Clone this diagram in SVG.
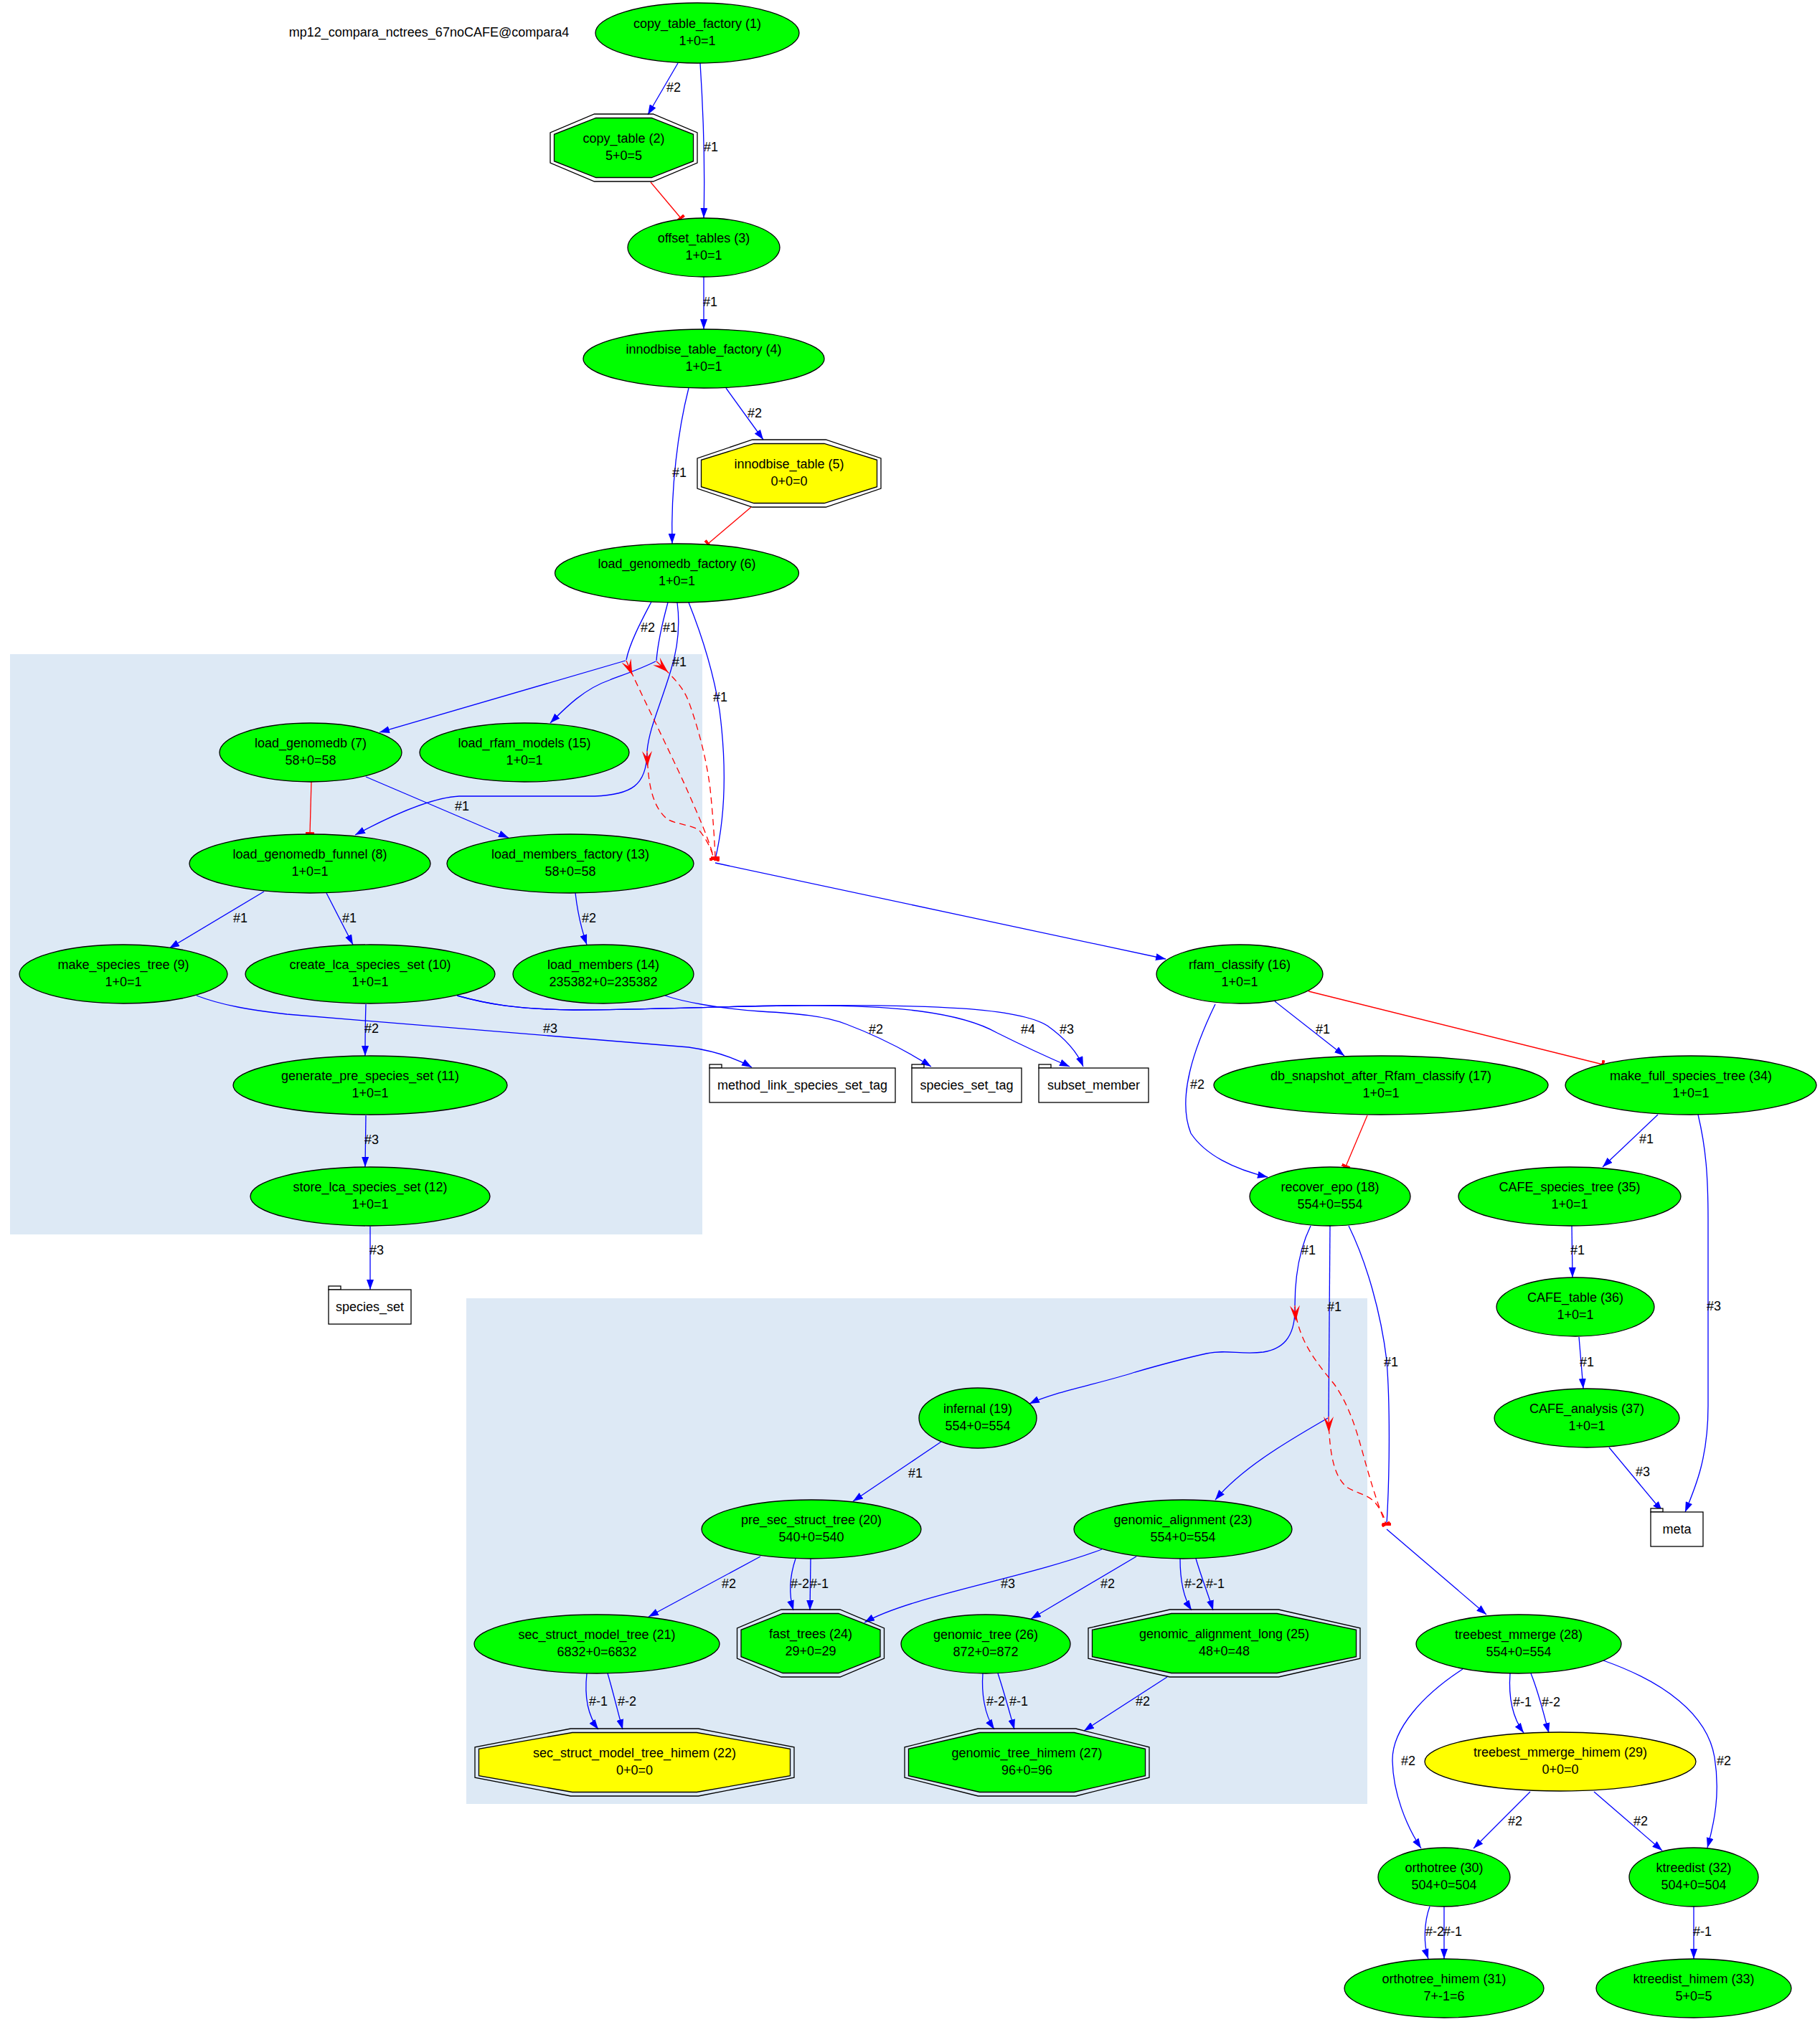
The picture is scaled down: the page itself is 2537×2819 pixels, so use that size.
<svg xmlns="http://www.w3.org/2000/svg" width="2537" height="2819" viewBox="0 0 2537 2819">
<style>
  text { font-family: "Liberation Sans", Arial, Helvetica, sans-serif; font-size: 18px; fill: #000; }
  .c { text-anchor: middle; }
  .nd ellipse, .nd polygon, .nd rect { stroke: #000; stroke-width: 1.3; }
  .g { fill: #00ff00; }
  .y { fill: #ffff00; }
  .per { fill: none; }
  .tbl rect { fill: #fff; }
  .cl { fill: #dde9f5; stroke: none; }
  .e { fill: none; stroke: #0000ff; stroke-width: 1.3; }
  .ea { marker-end: url(#arr); }
  .r { fill: none; stroke: #ff0000; stroke-width: 1.3; marker-end: url(#tee); }
  .d { fill: none; stroke: #ff0000; stroke-width: 1.3; stroke-dasharray: 9,6; marker-start: url(#vee); marker-end: url(#tee); }
</style>
<defs>
  <marker id="arr" markerUnits="userSpaceOnUse" viewBox="0 0 14 10" refX="14" refY="5" markerWidth="14" markerHeight="10" orient="auto">
    <path d="M0,0 L14,5 L0,10 Z" fill="#0000ff"/>
  </marker>
  <marker id="tee" markerUnits="userSpaceOnUse" viewBox="0 0 4 12" refX="2" refY="6" markerWidth="4" markerHeight="12" orient="auto">
    <rect x="0" y="0" width="4" height="12" fill="#ff0000"/>
  </marker>
  <marker id="vee" markerUnits="userSpaceOnUse" viewBox="0 0 22 16" refX="0" refY="8" markerWidth="22" markerHeight="16" orient="auto">
    <path d="M0,1 L22,8 L0,15 L9,8 Z" fill="#ff0000"/>
  </marker>
</defs>

<rect width="2537" height="2819" fill="#fff"/>

<!-- clusters -->
<g id="clusters">
  <rect class="cl" x="14" y="912" width="965" height="809"/>
  <rect class="cl" x="650" y="1810" width="1256" height="705"/>
</g>

<text x="598" y="51" class="c">mp12_compara_nctrees_67noCAFE@compara4</text>

<!-- connectors -->
<g id="connectors">
  <!-- top chain -->
  <path class="e ea" d="M945,88 L903,160"/>
  <text x="939" y="128" class="c">#2</text>
  <path class="e ea" d="M976,88 C980,150 983,230 981,304"/>
  <text x="991" y="211" class="c">#1</text>
  <path class="r" d="M907,254 L949,304"/>
  <path class="e ea" d="M981,386 L981,459"/>
  <text x="990" y="427" class="c">#1</text>
  <path class="e ea" d="M960,541 C945,600 935,680 937,758"/>
  <text x="947" y="665" class="c">#1</text>
  <path class="e ea" d="M1012,541 L1064,613"/>
  <text x="1052" y="582" class="c">#2</text>
  <path class="r" d="M1047,707 L987,758"/>

  <!-- load_genomedb_factory fan-out and semaphore -->
  <path class="e" d="M908,839 C896,862 878,895 873,920"/>
  <text x="903" y="881" class="c">#2</text>
  <path class="e" d="M931,840 C925,862 917,895 915,921"/>
  <text x="934" y="881" class="c">#1</text>
  <path class="e" d="M944,840 C948,870 946,900 935,935 C920,985 905,1015 902,1047"/>
  <text x="947" y="929" class="c">#1</text>
  <path class="e" d="M960,840 C978,885 995,940 1003,990 C1012,1060 1013,1130 997,1198" style="marker-end:url(#tee)"/>
  <text x="1004" y="978" class="c">#1</text>

  <path class="e ea" d="M872,921 L529,1021"/>
  <path class="e ea" d="M914,922 C890,934 865,942 850,948 C815,960 790,985 767,1008"/>
  <path class="e ea" d="M902,1050 C901,1095 880,1108 829,1110 L640,1110 C600,1112 540,1140 495,1164"/>

  <path class="d" d="M873,921 C885,950 930,1040 955,1095 C975,1140 990,1175 995,1197"/>
  <path class="d" d="M915,922 C940,945 952,958 960,978 C975,1020 985,1060 990,1100 C994,1140 996,1170 997,1196"/>
  <path class="d" d="M902,1047 C903,1095 910,1125 930,1142 C945,1150 965,1150 975,1158 C985,1170 992,1185 995,1197"/>

  <path class="e ea" d="M997,1203 L1625,1337"/>

  <!-- cluster 1 internals -->
  <path class="r" d="M434,1090 L432,1162"/>
  <path class="e ea" d="M510,1083 L709,1168"/>
  <text x="644" y="1130" class="c">#1</text>
  <path class="e ea" d="M368,1243 L236,1322"/>
  <text x="335" y="1286" class="c">#1</text>
  <path class="e ea" d="M455,1245 L492,1317"/>
  <text x="487" y="1286" class="c">#1</text>
  <path class="e ea" d="M802,1245 C806,1280 812,1300 818,1317"/>
  <text x="821" y="1286" class="c">#2</text>
  <path class="e ea" d="M510,1400 C509,1430 509,1450 509,1472"/>
  <text x="518" y="1440" class="c">#2</text>
  <path class="e ea" d="M510,1555 L509,1627"/>
  <text x="518" y="1595" class="c">#3</text>
  <path class="e ea" d="M516,1710 L516,1798"/>
  <text x="525" y="1749" class="c">#3</text>

  <!-- table outputs -->
  <path class="e ea" d="M274,1388 C310,1402 350,1408 400,1414 L960,1460 C995,1465 1025,1475 1048,1488"/>
  <text x="767" y="1440" class="c">#3</text>
  <path class="e ea" d="M927,1388 C950,1396 1000,1406 1060,1410 C1110,1413 1150,1416 1180,1428 C1225,1445 1265,1466 1298,1487"/>
  <text x="1221" y="1441" class="c">#2</text>
  <path class="e ea" d="M637,1388 C680,1400 720,1407 800,1408 C900,1408 1000,1403 1100,1402 C1250,1400 1340,1412 1390,1440 C1430,1460 1470,1478 1491,1487"/>
  <text x="1433" y="1441" class="c">#4</text>
  <path class="e ea" d="M637,1388 C680,1400 720,1407 800,1408 C900,1408 1000,1403 1100,1402 C1300,1400 1420,1405 1460,1430 C1488,1450 1503,1470 1510,1487"/>
  <text x="1487" y="1441" class="c">#3</text>

  <!-- rfam_classify -->
  <path class="e ea" d="M1777,1396 L1874,1472"/>
  <text x="1844" y="1441" class="c">#1</text>
  <path class="r" d="M1824,1382 L2234,1484"/>
  <path class="e ea" d="M1694,1400 C1665,1460 1640,1530 1660,1580 C1680,1610 1720,1630 1767,1641"/>
  <text x="1669" y="1518" class="c">#2</text>
  <path class="r" d="M1906,1555 L1876,1626"/>

  <!-- CAFE branch -->
  <path class="e ea" d="M2311,1554 L2234,1627"/>
  <text x="2295" y="1594" class="c">#1</text>
  <path class="e ea" d="M2367,1554 C2378,1600 2381,1640 2381,1700 L2381,1960 C2381,2030 2365,2070 2349,2108"/>
  <text x="2389" y="1827" class="c">#3</text>
  <path class="e ea" d="M2191,1709 L2192,1781"/>
  <text x="2199" y="1749" class="c">#1</text>
  <path class="e ea" d="M2201,1864 L2207,1936"/>
  <text x="2212" y="1905" class="c">#1</text>
  <path class="e ea" d="M2243,2018 L2317,2107"/>
  <text x="2290" y="2058" class="c">#3</text>

  <!-- recover_epo fan-out and semaphore -->
  <path class="e" d="M1827,1709 C1812,1740 1805,1780 1805,1820"/>
  <text x="1824" y="1749" class="c">#1</text>
  <path class="e" d="M1854,1709 L1852,1975"/>
  <text x="1860" y="1828" class="c">#1</text>
  <path class="e" d="M1880,1709 C1905,1760 1925,1830 1933,1897 C1938,1960 1937,2060 1933,2125" style="marker-end:url(#tee)"/>
  <text x="1939" y="1905" class="c">#1</text>

  <path class="e ea" d="M1805,1822 C1806,1868 1785,1881 1761,1885 C1730,1889 1710,1881 1682,1887 C1645,1895 1610,1905 1582,1913 C1530,1930 1470,1940 1435,1957"/>
  <path class="e ea" d="M1851,1977 C1790,2012 1730,2048 1694,2091"/>
  <path class="d" d="M1805,1820 C1808,1870 1840,1905 1860,1930 C1885,1965 1895,2010 1905,2045 C1915,2080 1925,2110 1932,2125"/>
  <path class="d" d="M1852,1975 C1853,2035 1862,2060 1877,2073 C1890,2082 1905,2082 1917,2095 C1925,2105 1930,2115 1932,2125"/>
  <path class="e ea" d="M1933,2132 L2072,2251"/>

  <!-- cluster 2 internals -->
  <path class="e ea" d="M1312,2010 L1189,2093"/>
  <text x="1276" y="2060" class="c">#1</text>
  <path class="e ea" d="M1060,2170 L904,2254"/>
  <text x="1016" y="2214" class="c">#2</text>
  <path class="e ea" d="M1109,2173 C1100,2200 1100,2225 1106,2245"/>
  <text x="1115" y="2214" class="c">#-2</text>
  <path class="e ea" d="M1130,2173 L1129,2245"/>
  <text x="1142" y="2214" class="c">#-1</text>
  <path class="e ea" d="M1536,2160 C1430,2200 1270,2225 1205,2262"/>
  <text x="1405" y="2214" class="c">#3</text>
  <path class="e ea" d="M1584,2170 L1437,2257"/>
  <text x="1544" y="2214" class="c">#2</text>
  <path class="e ea" d="M1645,2173 C1645,2205 1650,2228 1661,2245"/>
  <text x="1664" y="2214" class="c">#-2</text>
  <path class="e ea" d="M1667,2173 C1675,2200 1685,2225 1691,2245"/>
  <text x="1694" y="2214" class="c">#-1</text>
  <path class="e ea" d="M818,2333 C815,2360 818,2390 834,2411"/>
  <text x="834" y="2378" class="c">#-1</text>
  <path class="e ea" d="M847,2333 C855,2360 862,2390 868,2411"/>
  <text x="874" y="2378" class="c">#-2</text>
  <path class="e ea" d="M1370,2333 C1368,2360 1372,2390 1386,2411"/>
  <text x="1388" y="2378" class="c">#-2</text>
  <path class="e ea" d="M1391,2333 C1400,2360 1408,2390 1414,2411"/>
  <text x="1420" y="2378" class="c">#-1</text>
  <path class="e ea" d="M1627,2338 L1511,2413"/>
  <text x="1593" y="2378" class="c">#2</text>

  <!-- treebest branch -->
  <path class="e ea" d="M2039,2327 C1985,2362 1940,2410 1941,2455 C1942,2500 1960,2545 1981,2577"/>
  <text x="1963" y="2461" class="c">#2</text>
  <path class="e ea" d="M2105,2333 C2103,2360 2105,2390 2124,2416"/>
  <text x="2122" y="2379" class="c">#-1</text>
  <path class="e ea" d="M2134,2333 C2145,2360 2152,2390 2159,2416"/>
  <text x="2162" y="2379" class="c">#-2</text>
  <path class="e ea" d="M2235,2315 C2320,2345 2380,2390 2390,2450 C2398,2500 2390,2540 2380,2576"/>
  <text x="2403" y="2461" class="c">#2</text>
  <path class="e ea" d="M2133,2498 L2054,2577"/>
  <text x="2112" y="2545" class="c">#2</text>
  <path class="e ea" d="M2222,2498 L2317,2580"/>
  <text x="2287" y="2545" class="c">#2</text>
  <path class="e ea" d="M1993,2658 C1985,2680 1984,2710 1991,2731"/>
  <text x="2000" y="2699" class="c">#-2</text>
  <path class="e ea" d="M2013,2658 L2013,2731"/>
  <text x="2025" y="2699" class="c">#-1</text>
  <path class="e ea" d="M2361,2658 L2361,2731"/>
  <text x="2373" y="2699" class="c">#-1</text>
</g>

<!-- nodes -->
<g id="n1" class="nd"><ellipse class="g" cx="972" cy="46" rx="142" ry="42"/><text x="972" y="39" class="c">copy_table_factory (1)</text><text x="972" y="63" class="c">1+0=1</text></g>
<g id="n2" class="nd">
  <polygon class="per" points="828.5,159 910.5,159 972,184.85 972,227.15 910.5,253 828.5,253 767,227.15 767,184.85"/>
  <polygon class="g" points="830.7,164.5 908.3,164.5 966.5,187.3 966.5,224.7 908.3,247.5 830.7,247.5 772.5,224.7 772.5,187.3"/>
  <text x="869.5" y="199" class="c">copy_table (2)</text><text x="869.5" y="223" class="c">5+0=5</text></g>
<g id="n3" class="nd"><ellipse class="g" cx="981" cy="345" rx="106" ry="41"/><text x="981" y="338" class="c">offset_tables (3)</text><text x="981" y="362" class="c">1+0=1</text></g>
<g id="n4" class="nd"><ellipse class="g" cx="981" cy="500" rx="168" ry="41"/><text x="981" y="493" class="c">innodbise_table_factory (4)</text><text x="981" y="517" class="c">1+0=1</text></g>
<g id="n5" class="nd">
  <polygon class="per" points="1048.8,613 1151.2,613 1228,638.85 1228,681.15 1151.2,707 1048.8,707 972,681.15 972,638.85"/>
  <polygon class="y" points="1051,618.5 1149,618.5 1222.5,641.3 1222.5,678.7 1149,701.5 1051,701.5 977.5,678.7 977.5,641.3"/>
  <text x="1100" y="653" class="c">innodbise_table (5)</text><text x="1100" y="677" class="c">0+0=0</text></g>
<g id="n6" class="nd"><ellipse class="g" cx="943.5" cy="799" rx="170" ry="41"/><text x="943.5" y="792" class="c">load_genomedb_factory (6)</text><text x="943.5" y="816" class="c">1+0=1</text></g>
<g id="n7" class="nd"><ellipse class="g" cx="433" cy="1049" rx="127" ry="41"/><text x="433" y="1042" class="c">load_genomedb (7)</text><text x="433" y="1066" class="c">58+0=58</text></g>
<g id="n15" class="nd"><ellipse class="g" cx="731" cy="1049" rx="146" ry="41"/><text x="731" y="1042" class="c">load_rfam_models (15)</text><text x="731" y="1066" class="c">1+0=1</text></g>
<g id="n8" class="nd"><ellipse class="g" cx="432" cy="1204" rx="168" ry="41"/><text x="432" y="1197" class="c">load_genomedb_funnel (8)</text><text x="432" y="1221" class="c">1+0=1</text></g>
<g id="n13" class="nd"><ellipse class="g" cx="795" cy="1204" rx="172" ry="41"/><text x="795" y="1197" class="c">load_members_factory (13)</text><text x="795" y="1221" class="c">58+0=58</text></g>
<g id="n9" class="nd"><ellipse class="g" cx="172" cy="1358" rx="145" ry="41"/><text x="172" y="1351" class="c">make_species_tree (9)</text><text x="172" y="1375" class="c">1+0=1</text></g>
<g id="n10" class="nd"><ellipse class="g" cx="516" cy="1358" rx="174" ry="41"/><text x="516" y="1351" class="c">create_lca_species_set (10)</text><text x="516" y="1375" class="c">1+0=1</text></g>
<g id="n14" class="nd"><ellipse class="g" cx="841" cy="1358" rx="126" ry="41"/><text x="841" y="1351" class="c">load_members (14)</text><text x="841" y="1375" class="c">235382+0=235382</text></g>
<g id="n16" class="nd"><ellipse class="g" cx="1728" cy="1358" rx="116" ry="41"/><text x="1728" y="1351" class="c">rfam_classify (16)</text><text x="1728" y="1375" class="c">1+0=1</text></g>
<g id="n11" class="nd"><ellipse class="g" cx="516" cy="1513" rx="191" ry="41"/><text x="516" y="1506" class="c">generate_pre_species_set (11)</text><text x="516" y="1530" class="c">1+0=1</text></g>
<g id="n17" class="nd"><ellipse class="g" cx="1925" cy="1513" rx="233" ry="41"/><text x="1925" y="1506" class="c">db_snapshot_after_Rfam_classify (17)</text><text x="1925" y="1530" class="c">1+0=1</text></g>
<g id="n34" class="nd"><ellipse class="g" cx="2357" cy="1513" rx="175" ry="41"/><text x="2357" y="1506" class="c">make_full_species_tree (34)</text><text x="2357" y="1530" class="c">1+0=1</text></g>
<g id="n12" class="nd"><ellipse class="g" cx="516" cy="1668" rx="167" ry="41"/><text x="516" y="1661" class="c">store_lca_species_set (12)</text><text x="516" y="1685" class="c">1+0=1</text></g>
<g id="n18" class="nd"><ellipse class="g" cx="1854" cy="1668" rx="112" ry="41"/><text x="1854" y="1661" class="c">recover_epo (18)</text><text x="1854" y="1685" class="c">554+0=554</text></g>
<g id="n35" class="nd"><ellipse class="g" cx="2188" cy="1668" rx="155" ry="41"/><text x="2188" y="1661" class="c">CAFE_species_tree (35)</text><text x="2188" y="1685" class="c">1+0=1</text></g>
<g id="n36" class="nd"><ellipse class="g" cx="2196" cy="1822" rx="110" ry="41"/><text x="2196" y="1815" class="c">CAFE_table (36)</text><text x="2196" y="1839" class="c">1+0=1</text></g>
<g id="n19" class="nd"><ellipse class="g" cx="1363" cy="1977" rx="82" ry="42"/><text x="1363" y="1970" class="c">infernal (19)</text><text x="1363" y="1994" class="c">554+0=554</text></g>
<g id="n37" class="nd"><ellipse class="g" cx="2212" cy="1977" rx="129" ry="41"/><text x="2212" y="1970" class="c">CAFE_analysis (37)</text><text x="2212" y="1994" class="c">1+0=1</text></g>
<g id="n20" class="nd"><ellipse class="g" cx="1131" cy="2132" rx="153" ry="41"/><text x="1131" y="2125" class="c">pre_sec_struct_tree (20)</text><text x="1131" y="2149" class="c">540+0=540</text></g>
<g id="n23" class="nd"><ellipse class="g" cx="1649" cy="2132" rx="152" ry="41"/><text x="1649" y="2125" class="c">genomic_alignment (23)</text><text x="1649" y="2149" class="c">554+0=554</text></g>
<g id="n21" class="nd"><ellipse class="g" cx="832" cy="2292" rx="171" ry="41"/><text x="832" y="2285" class="c">sec_struct_model_tree (21)</text><text x="832" y="2309" class="c">6832+0=6832</text></g>
<g id="n24" class="nd">
  <polygon class="per" points="1089,2244 1171,2244 1232.5,2269.85 1232.5,2312.15 1171,2338 1089,2338 1027.5,2312.15 1027.5,2269.85"/>
  <polygon class="g" points="1091.2,2249.5 1168.8,2249.5 1227,2272.3 1227,2309.7 1168.8,2332.5 1091.2,2332.5 1033,2309.7 1033,2272.3"/>
  <text x="1130" y="2284" class="c">fast_trees (24)</text><text x="1130" y="2308" class="c">29+0=29</text></g>
<g id="n26" class="nd"><ellipse class="g" cx="1374" cy="2292" rx="118" ry="41"/><text x="1374" y="2285" class="c">genomic_tree (26)</text><text x="1374" y="2309" class="c">872+0=872</text></g>
<g id="n25" class="nd">
  <polygon class="per" points="1630.7,2244 1782.3,2244 1896,2269.85 1896,2312.15 1782.3,2338 1630.7,2338 1517,2312.15 1517,2269.85"/>
  <polygon class="g" points="1632.9,2249.5 1780.1,2249.5 1890.5,2272.3 1890.5,2309.7 1780.1,2332.5 1632.9,2332.5 1522.5,2309.7 1522.5,2272.3"/>
  <text x="1706.5" y="2284" class="c">genomic_alignment_long (25)</text><text x="1706.5" y="2308" class="c">48+0=48</text></g>
<g id="n22" class="nd">
  <polygon class="per" points="795.5,2410 973.5,2410 1107,2435.85 1107,2478.15 973.5,2504 795.5,2504 662,2478.15 662,2435.85"/>
  <polygon class="y" points="797.7,2415.5 971.3,2415.5 1101.5,2438.3 1101.5,2475.7 971.3,2498.5 797.7,2498.5 667.5,2475.7 667.5,2438.3"/>
  <text x="884.5" y="2450" class="c">sec_struct_model_tree_himem (22)</text><text x="884.5" y="2474" class="c">0+0=0</text></g>
<g id="n27" class="nd">
  <polygon class="per" points="1363.3,2410 1499.7,2410 1602,2435.85 1602,2478.15 1499.7,2504 1363.3,2504 1261,2478.15 1261,2435.85"/>
  <polygon class="g" points="1365.5,2415.5 1497.5,2415.5 1596.5,2438.3 1596.5,2475.7 1497.5,2498.5 1365.5,2498.5 1266.5,2475.7 1266.5,2438.3"/>
  <text x="1431.5" y="2450" class="c">genomic_tree_himem (27)</text><text x="1431.5" y="2474" class="c">96+0=96</text></g>
<g id="n28" class="nd"><ellipse class="g" cx="2117" cy="2292" rx="143" ry="41"/><text x="2117" y="2285" class="c">treebest_mmerge (28)</text><text x="2117" y="2309" class="c">554+0=554</text></g>
<g id="n29" class="nd"><ellipse class="y" cx="2175" cy="2456" rx="189" ry="41"/><text x="2175" y="2449" class="c">treebest_mmerge_himem (29)</text><text x="2175" y="2473" class="c">0+0=0</text></g>
<g id="n30" class="nd"><ellipse class="g" cx="2013" cy="2617" rx="92" ry="41"/><text x="2013" y="2610" class="c">orthotree (30)</text><text x="2013" y="2634" class="c">504+0=504</text></g>
<g id="n32" class="nd"><ellipse class="g" cx="2361" cy="2617" rx="90" ry="41"/><text x="2361" y="2610" class="c">ktreedist (32)</text><text x="2361" y="2634" class="c">504+0=504</text></g>
<g id="n31" class="nd"><ellipse class="g" cx="2013" cy="2772" rx="139" ry="41"/><text x="2013" y="2765" class="c">orthotree_himem (31)</text><text x="2013" y="2789" class="c">7+-1=6</text></g>
<g id="n33" class="nd"><ellipse class="g" cx="2361" cy="2772" rx="136" ry="41"/><text x="2361" y="2765" class="c">ktreedist_himem (33)</text><text x="2361" y="2789" class="c">5+0=5</text></g>

<!-- tables -->
<g id="t_species_set" class="nd tbl"><rect x="458" y="1793" width="17" height="5"/><rect x="458" y="1798" width="115" height="48"/><text x="515.5" y="1828" class="c">species_set</text></g>
<g id="t_method_link_species_set_tag" class="nd tbl"><rect x="989" y="1484" width="17" height="5"/><rect x="989" y="1489" width="259" height="48"/><text x="1118.5" y="1519" class="c">method_link_species_set_tag</text></g>
<g id="t_species_set_tag" class="nd tbl"><rect x="1271" y="1484" width="17" height="5"/><rect x="1271" y="1489" width="153" height="48"/><text x="1347.5" y="1519" class="c">species_set_tag</text></g>
<g id="t_subset_member" class="nd tbl"><rect x="1448" y="1484" width="17" height="5"/><rect x="1448" y="1489" width="153" height="48"/><text x="1524.5" y="1519" class="c">subset_member</text></g>
<g id="t_meta" class="nd tbl"><rect x="2301" y="2103" width="17" height="5"/><rect x="2301" y="2108" width="73" height="48"/><text x="2337.5" y="2138" class="c">meta</text></g>
</svg>
